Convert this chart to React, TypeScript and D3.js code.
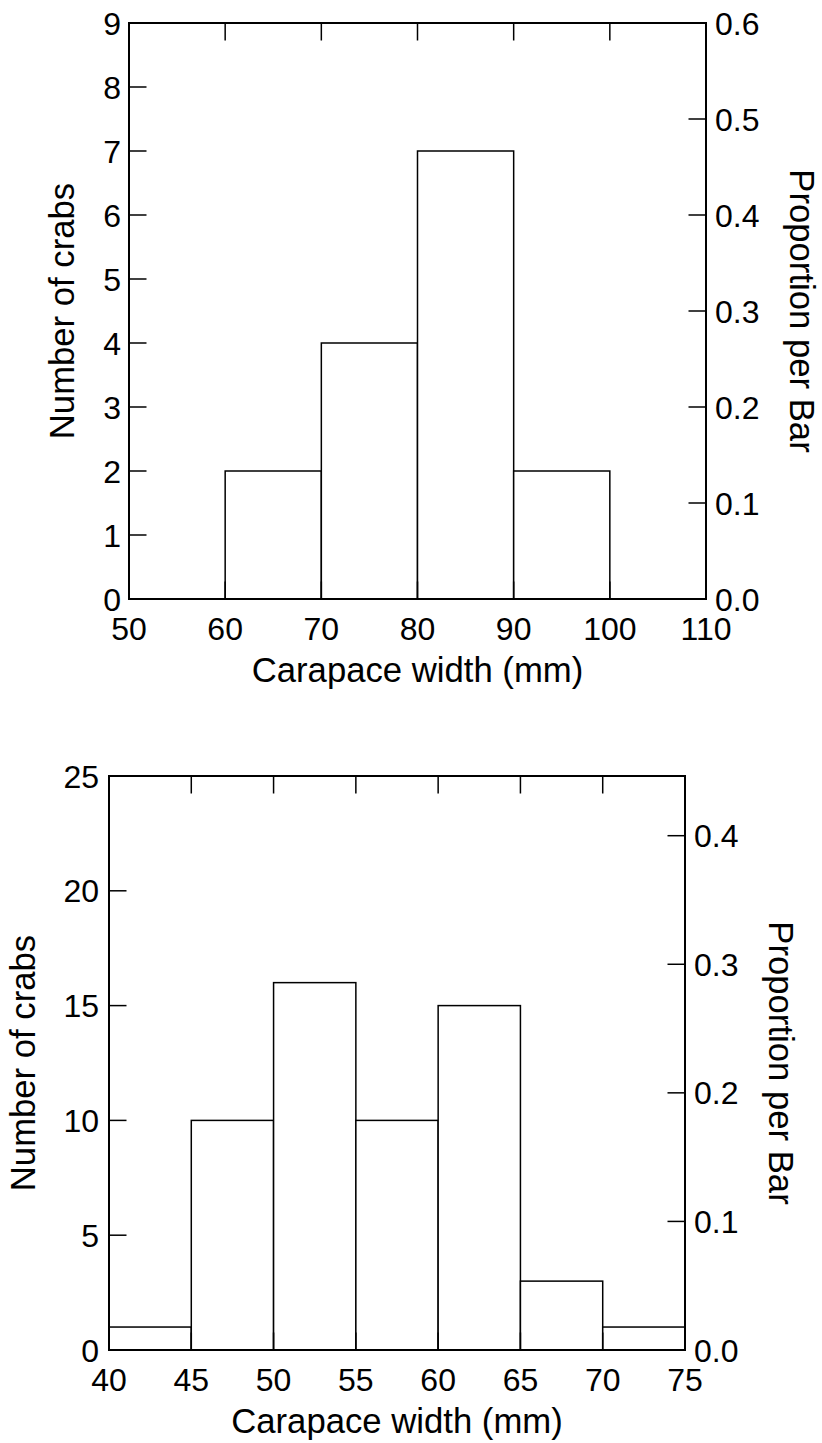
import React from "react";
import * as d3 from "d3";

const topEdges = [50, 60, 70, 80, 90, 100, 110];
const topCounts = [0, 2, 4, 7, 2, 0];
const topCountTicks = [0, 1, 2, 3, 4, 5, 6, 7, 8, 9];
const topPropTicks = [0, 0.1, 0.2, 0.3, 0.4, 0.5, 0.6];

const botEdges = [40, 45, 50, 55, 60, 65, 70, 75];
const botCounts = [1, 10, 16, 10, 15, 3, 1];
const botCountTicks = [0, 5, 10, 15, 20, 25];
const botPropTicks = [0, 0.1, 0.2, 0.3, 0.4];

const xTitle = "Carapace width (mm)";
const yTitle = "Number of crabs";
const y2Title = "Proportion per Bar";

const FONT = "'Liberation Sans', Arial, Helvetica, sans-serif";
const TICK_FS = 32;
const TITLE_FS = 34.7;
const TL = 17.5;

type PanelProps = {
  edges: number[];
  counts: number[];
  countTicks: number[];
  propTicks: number[];
  left: number;
  right: number;
  top: number;
  bottom: number;
  yTitleX: number;
  y2TitleX: number;
  yLabelGap: number;
};

function Panel(p: PanelProps) {
  const { edges, counts, countTicks, propTicks, left, right, top, bottom } = p;
  const total = d3.sum(counts);
  const x = d3.scaleLinear().domain([edges[0], edges[edges.length - 1]]).range([left, right]);
  const yMax = countTicks[countTicks.length - 1];
  const y = d3.scaleLinear().domain([0, yMax]).range([bottom, top]);
  const y2 = d3.scaleLinear().domain([0, yMax / total]).range([bottom, top]);
  const cy = (top + bottom) / 2;
  const cx = (left + right) / 2;
  const fmt = d3.format(".1f");
  return (
    <g>
      {counts.map((c, i) =>
        c > 0 ? (
          <rect
            key={"b" + i}
            x={x(edges[i])}
            y={y(c)}
            width={x(edges[i + 1]) - x(edges[i])}
            height={y(0) - y(c)}
            fill="white"
            stroke="black"
            strokeWidth={1.5}
          />
        ) : null
      )}
      {edges.map((e, i) => (
        <g key={"xt" + i}>
          <line x1={x(e)} x2={x(e)} y1={bottom} y2={bottom - TL} stroke="black" strokeWidth={1.5} />
          <line x1={x(e)} x2={x(e)} y1={top} y2={top + TL} stroke="black" strokeWidth={1.5} />
          <text x={x(e)} y={bottom + 41} textAnchor="middle" fontSize={TICK_FS} fontFamily={FONT}>
            {e}
          </text>
        </g>
      ))}
      {countTicks.map((t, i) => (
        <g key={"yt" + i}>
          <line x1={left} x2={left + TL} y1={y(t)} y2={y(t)} stroke="black" strokeWidth={1.5} />
          <text x={left - p.yLabelGap} y={y(t)} dy="0.36em" textAnchor="end" fontSize={TICK_FS} fontFamily={FONT}>
            {t}
          </text>
        </g>
      ))}
      {propTicks.map((t, i) => (
        <g key={"pt" + i}>
          <line x1={right} x2={right - TL} y1={y2(t)} y2={y2(t)} stroke="black" strokeWidth={1.5} />
          <text x={right + 9} y={y2(t)} dy="0.36em" textAnchor="start" fontSize={TICK_FS} fontFamily={FONT}>
            {fmt(t)}
          </text>
        </g>
      ))}
      <rect x={left} y={top} width={right - left} height={bottom - top} fill="none" stroke="black" strokeWidth={2} />
      <text x={cx} y={bottom + 83} textAnchor="middle" fontSize={TITLE_FS} fontFamily={FONT}>
        {xTitle}
      </text>
      <text
        transform={`translate(${p.yTitleX},${cy}) rotate(-90)`}
        textAnchor="middle"
        fontSize={TITLE_FS}
        fontFamily={FONT}
      >
        {yTitle}
      </text>
      <text
        transform={`translate(${p.y2TitleX},${cy}) rotate(90)`}
        textAnchor="middle"
        fontSize={TITLE_FS}
        fontFamily={FONT}
      >
        {y2Title}
      </text>
    </g>
  );
}

export default function App() {
  return (
    <svg
      width={822}
      height={1443}
      style={{ position: "absolute", left: 0, top: 0, background: "white" }}
    >
      <rect x={0} y={0} width={822} height={1443} fill="white" />
      <Panel
        edges={topEdges}
        counts={topCounts}
        countTicks={topCountTicks}
        propTicks={topPropTicks}
        left={129}
        right={706}
        top={23}
        bottom={599}
        yTitleX={74}
        y2TitleX={790}
        yLabelGap={8}
      />
      <Panel
        edges={botEdges}
        counts={botCounts}
        countTicks={botCountTicks}
        propTicks={botPropTicks}
        left={109}
        right={685}
        top={776}
        bottom={1350}
        yTitleX={35}
        y2TitleX={769}
        yLabelGap={10}
      />
    </svg>
  );
}
